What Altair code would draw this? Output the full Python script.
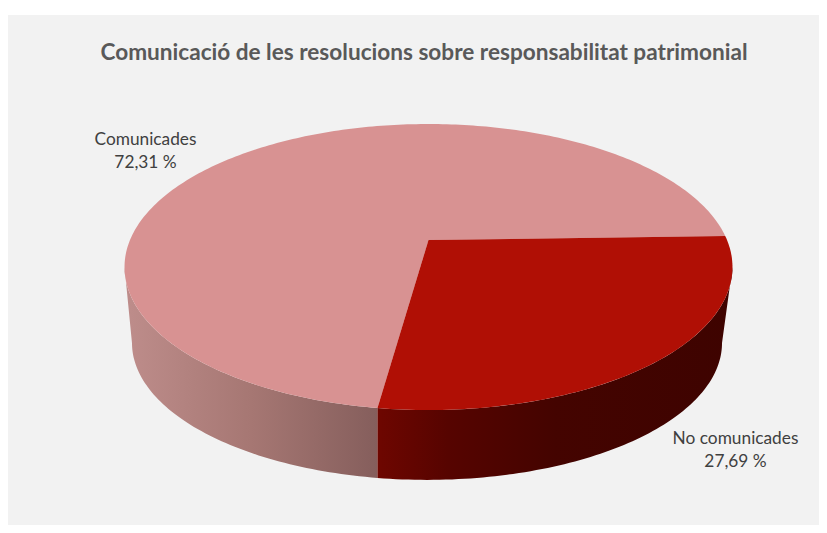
import math
import altair as alt
import pandas as pd

# --- values ---
categories = ["No comunicades", "Comunicades"]
shares = [27.69, 72.31]
share_labels = ["27,69 %", "72,31 %"]
top_colours = ["#B00F05", "#D89292"]
TITLE = "Comunicació de les resolucions sobre responsabilitat patrimonial"
FONT = "Lato"

# --- perspective view of the disc (screen pixels) ---
START = -1.7          # angle of the first slice's edge, clockwise from east
K = 0.189             # perspective strength
TOP = dict(x0=428.5, y0=240, a=298.5, b=137.9)
BOTTOM = dict(x0=427, y0=317, a=289.7, b=132.1)
TANGENT = math.degrees(math.asin(K))


def rim(view, t):
    r = math.radians(t)
    d = 1 - K * math.sin(r)
    return view["x0"] + view["a"] * math.cos(r) / d, view["y0"] + view["b"] * math.sin(r) / d


def sweep(a, b, step=1.0):
    n = max(2, int(abs(b - a) / step))
    return [a + (b - a) * i / n for i in range(n + 1)]


def polygon(points):
    return pd.DataFrame([{"x": x, "y": y, "i": i} for i, (x, y) in enumerate(points)])


PANEL_W, PANEL_H = 811, 510
xs = alt.X("x:Q", axis=None, scale=alt.Scale(domain=[8, 8 + PANEL_W], range=[0, PANEL_W], nice=False, zero=False))
ys = alt.Y("y:Q", axis=None, scale=alt.Scale(domain=[15, 15 + PANEL_H], range=[0, PANEL_H], nice=False, zero=False))


def shape(df, fill):
    return alt.Chart(df).mark_line(fill=fill, strokeWidth=0, strokeOpacity=0, clip=False).encode(
        x=xs, y=ys, order="i:Q"
    )


def gradient(stops):
    return alt.Gradient(
        gradient="linear", x1=0, x2=1, y1=0, y2=0,
        stops=[alt.GradientStop(offset=o, color=c) for o, c in stops],
    )


# slice edges
edge0 = START
edge1 = START + shares[0] * 3.6
edge2 = START + 360

# walls: only the front of the disc is seen
pink_wall = [rim(TOP, t) for t in sweep(edge1, 180 - TANGENT)] + \
            [rim(BOTTOM, t) for t in sweep(180 - TANGENT, edge1)]
red_wall = [rim(TOP, t) for t in sweep(TANGENT, edge1)] + \
           [rim(BOTTOM, t) for t in sweep(edge1, TANGENT)]

wall_pink = shape(polygon(pink_wall), gradient([
    (0.0, "#BE8D8B"), (0.5, "#A67773"), (1.0, "#855E5C"),
]))
wall_red = shape(polygon(red_wall), gradient([
    (0.0, "#6E0600"), (0.2, "#560400"), (0.5, "#440400"), (1.0, "#3E0300"),
]))

# top surface
apex = (TOP["x0"], TOP["y0"])
slice_red = [apex] + [rim(TOP, t) for t in sweep(edge0, edge1)]
slice_pink = [apex] + [rim(TOP, t) for t in sweep(edge1, edge2)]
top_pink = shape(polygon(slice_pink), top_colours[1])
top_red = shape(polygon(slice_red), top_colours[0])

# labels
label_anchor = {"No comunicades": (735.5, 439), "Comunicades": (145.5, 140)}
rows = []
for c, s in zip(categories, share_labels):
    lx, ly = label_anchor[c]
    rows.append({"x": lx, "y": ly, "t": c})
    rows.append({"x": lx, "y": ly + 23, "t": s})
labels = alt.Chart(pd.DataFrame(rows)).mark_text(
    font=FONT, fontSize=17.3, color="#404040", align="center", baseline="middle"
).encode(x=xs, y=ys, text="t:N")

chart = alt.layer(wall_pink, wall_red, top_pink, top_red, labels).properties(
    width=PANEL_W,
    height=PANEL_H,
    padding={"left": 0, "top": 7, "right": 0, "bottom": 0},
    autosize=alt.AutoSizeParams(type="none"),
    background="#FFFFFF",
    title=alt.TitleParams(
        TITLE, font=FONT, fontSize=22.6, fontWeight="bold", color="#595959",
        anchor="middle", frame="group", offset=-73, dx=10.5, baseline="bottom",
    ),
).configure_view(fill="#F2F2F2", stroke=None)

chart.save("out.html", embed_options={"renderer": "svg", "actions": False})
